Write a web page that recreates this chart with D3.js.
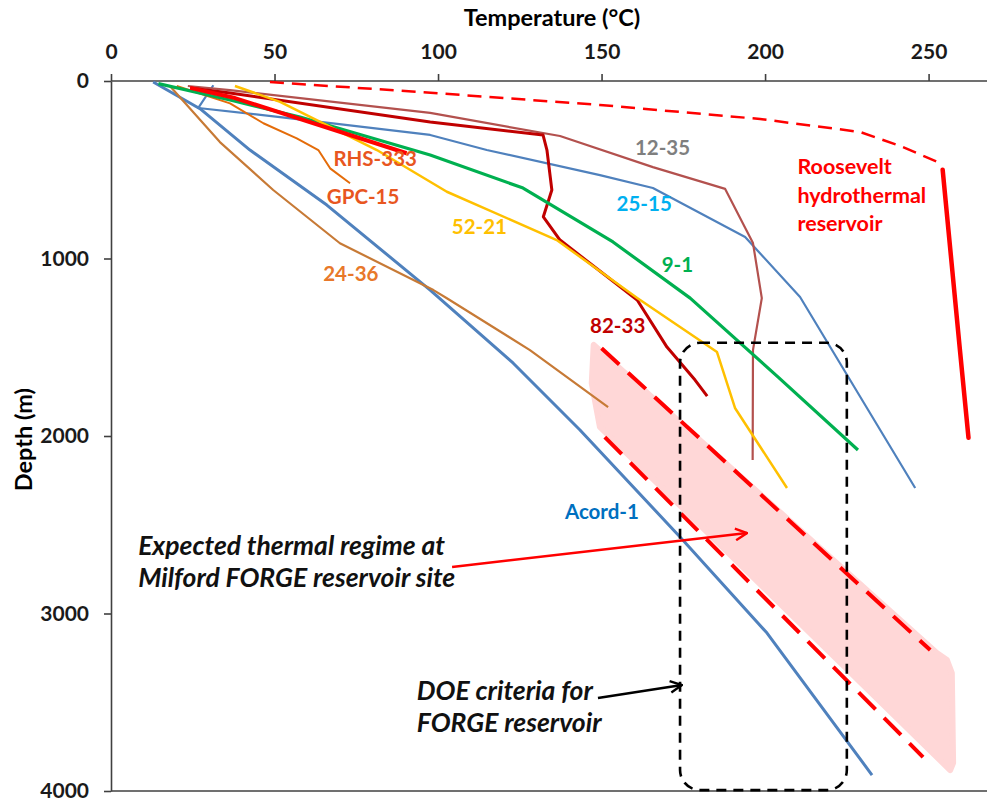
<!DOCTYPE html>
<meta charset="utf-8">
<head>
    <title>Temperature vs depth, Milford FORGE</title>
    <script src="https://d3js.org/d3.v7.min.js"></script>
    <style>
        body { margin: 0; background: #fff; }
        svg text { font-family: "Lato", "Open Sans", sans-serif; font-weight: 700; }
        .axis path, .axis line { stroke: #404040; stroke-width: 1.6; }
        .axis text { font-size: 21px; fill: #1a1a1a; }
        .note { font-style: italic; font-size: 26.5px; fill: #111; }
        .lbl { font-size: 20.5px; }
    </style>
</head>
<body>
<div id="chart"></div>
<script>
    // [temperature °C, depth m]
    var acord1 = [[12.9, 6], [27.2, 156], [42.5, 389], [66, 699], [97.6, 1178], [123, 1590], [143.4, 1966], [174, 2569], [200.6, 3110], [232.7, 3910]];
    var w2515 = [[31.3, 24], [26.7, 152], [51.7, 203], [97.6, 304], [114.9, 389], [149.5, 530], [165.7, 603], [193.9, 879], [210.7, 1217], [245.9, 2293]];
    var w1235 = [[23.5, 28], [36.4, 51], [97.6, 180], [137.3, 310], [165.7, 485], [187.8, 608], [196.3, 913], [199, 1223], [196.3, 1516], [196.2, 2135]];
    var w8233 = [[24.2, 39], [36.4, 68], [97.6, 231], [132.1, 304], [133.3, 389], [134.8, 614], [132.2, 765], [137.3, 896], [160.9, 1234], [170, 1499], [178.6, 1685], [182.3, 1775]];
    var w91 = [[14.5, 15], [36.4, 107], [57.8, 203], [97.6, 417], [126, 603], [153.5, 907], [177.1, 1223], [204, 1668], [228.4, 2079]];
    var w5221 = [[37.9, 28], [51.7, 118], [81.3, 389], [102.7, 624], [136.3, 896], [160.9, 1223], [185.3, 1527], [190.8, 1842], [206.7, 2293]];
    var rhs333 = [[24.2, 39], [37.9, 96], [90.4, 407]];
    var gpc15 = [[20.1, 28], [36.4, 126], [46.6, 238], [56.8, 323], [63.4, 389], [67, 492], [73.1, 576]];
    var w2436 = [[18, 28], [33.3, 344], [49.6, 614], [70, 914], [98.6, 1178], [102.7, 1224], [128.1, 1516], [152, 1837]];
    var rooseveltShallow = [[48.6, 6], [94.5, 62], [149.5, 135], [198.5, 214], [229, 287], [241.3, 366], [253.5, 462]];
    var rooseveltDeep = [[254.3, 500], [259.5, 1500], [262.2, 2010]];

    // expected Milford thermal regime: shaded band and its two bounding lines
    var bandArea = [[147.6, 1487], [147, 1703], [149.5, 1949], [256.6, 3882], [257.5, 3842], [257.1, 3335], [255.6, 3262], [252.5, 3223]];
    var bandUpper = [[150, 1506], [250.5, 3206]];
    var bandLower = [[151, 2006], [248.3, 3809]];

    // DOE criteria box: temperature and depth limits
    var doeTemp = [174, 225];
    var doeDepth = [1475, 3995];

    var tempTicks = [0, 50, 100, 150, 200, 250];
    var depthTicks = [0, 1000, 2000, 3000, 4000];

    var width = 987, height = 803;

    var x = d3.scaleLinear().domain([0, 270]).range([111, 994]);
    var y = d3.scaleLinear().domain([0, 4000]).range([81, 791]);

    var svg = d3.select("#chart").append("svg")
        .attr("width", width)
        .attr("height", height);

    var defs = svg.append("defs");
    function arrowHead(id, color) {
        defs.append("marker")
            .attr("id", id)
            .attr("viewBox", "0 0 12 12")
            .attr("refX", 11).attr("refY", 6)
            .attr("markerWidth", 14).attr("markerHeight", 14)
            .attr("markerUnits", "userSpaceOnUse")
            .attr("orient", "auto")
            .append("path")
            .attr("d", "M1,1 L11,6 L1,11")
            .attr("fill", "none")
            .attr("stroke", color)
            .attr("stroke-width", 2);
    }
    arrowHead("arrRed", "#ff0000");
    arrowHead("arrBlack", "#000");

    var line = d3.line().x(function (d) { return x(d[0]); }).y(function (d) { return y(d[1]); });

    // pink band
    svg.append("path")
        .attr("d", line(bandArea) + "Z")
        .attr("fill", "#ffd7d7")
        .attr("stroke", "#ffd7d7")
        .attr("stroke-width", 6)
        .attr("stroke-linejoin", "round");

    // axes
    svg.append("g")
        .attr("class", "axis")
        .attr("transform", "translate(0," + y(0) + ")")
        .call(d3.axisTop(x).tickValues(tempTicks).tickSize(7).tickPadding(15).tickSizeOuter(0))
        .call(function (g) { g.select(".domain").attr("d", "M" + x(0) + ",0H" + width); });

    svg.append("g")
        .attr("class", "axis")
        .attr("transform", "translate(" + x(0) + ",0)")
        .call(d3.axisLeft(y).tickValues(depthTicks).tickFormat(d3.format("d")).tickSize(7).tickPadding(15).tickSizeOuter(0));

    svg.append("line")
        .attr("x1", x(0)).attr("x2", width)
        .attr("y1", y(4000)).attr("y2", y(4000))
        .attr("stroke", "#404040").attr("stroke-width", 1.6);

    svg.append("text")
        .attr("x", 552).attr("y", 26)
        .attr("text-anchor", "middle")
        .style("font-size", "23.5px")
        .text("Temperature (°C)");

    svg.append("text")
        .attr("transform", "translate(32," + y(2020) + ") rotate(-90)")
        .attr("text-anchor", "middle")
        .style("font-size", "23.5px")
        .text("Depth (m)");

    // band boundary lines
    [bandUpper, bandLower].forEach(function (b) {
        svg.append("path")
            .attr("d", line(b))
            .attr("fill", "none")
            .attr("stroke", "#ff0000")
            .attr("stroke-width", 4)
            .attr("stroke-dasharray", "24,12");
    });

    // wells
    var wells = [
        {data: w2515, color: "#4f81bd", w: 2.2},
        {data: acord1, color: "#4f81bd", w: 3},
        {data: w2436, color: "#c77a36", w: 2.2},
        {data: gpc15, color: "#e46c0a", w: 2},
        {data: w1235, color: "#b3514e", w: 2.2},
        {data: w8233, color: "#c00000", w: 3},
        {data: w91, color: "#00b050", w: 3.2},
        {data: w5221, color: "#ffc000", w: 2.5},
        {data: rhs333, color: "#ff0000", w: 4}
    ];

    svg.selectAll(".well")
        .data(wells)
        .enter()
        .append("path")
        .attr("class", "well")
        .attr("d", function (d) { return line(d.data); })
        .attr("fill", "none")
        .attr("stroke", function (d) { return d.color; })
        .attr("stroke-width", function (d) { return d.w; })
        .attr("stroke-linejoin", "round");

    // Roosevelt hydrothermal reservoir
    svg.append("path")
        .attr("d", line(rooseveltShallow))
        .attr("fill", "none")
        .attr("stroke", "#ff0000")
        .attr("stroke-width", 2.5)
        .attr("stroke-dasharray", "14,8");
    svg.append("path")
        .attr("d", line(rooseveltDeep))
        .attr("fill", "none")
        .attr("stroke", "#ff0000")
        .attr("stroke-width", 4.5)
        .attr("stroke-linecap", "round");

    // DOE box
    svg.append("rect")
        .attr("x", x(doeTemp[0]))
        .attr("y", y(doeDepth[0]))
        .attr("width", x(doeTemp[1]) - x(doeTemp[0]))
        .attr("height", y(doeDepth[1]) - y(doeDepth[0]))
        .attr("rx", 20).attr("ry", 20)
        .attr("fill", "none")
        .attr("stroke", "#000")
        .attr("stroke-width", 2.6)
        .attr("stroke-dasharray", "10,7");

    // curve labels, anchored at [temperature, depth]
    var labels = [
        {t: "12-35", at: [160.2, 417], c: "#7f7f7f"},
        {t: "25-15", at: [154.6, 732], c: "#00b0f0"},
        {t: "52-21", at: [104.2, 862], c: "#ffc000"},
        {t: "9-1", at: [168.4, 1076], c: "#00b050"},
        {t: "82-33", at: [146.5, 1420], c: "#c00000"},
        {t: "RHS-333", at: [68, 479], c: "#e8561f"},
        {t: "GPC-15", at: [66, 693], c: "#e8561f"},
        {t: "24-36", at: [64.9, 1127], c: "#e8782a"},
        {t: "Acord-1", at: [138.8, 2468], c: "#0070c0"}
    ];
    svg.selectAll(".lbl")
        .data(labels)
        .enter()
        .append("text")
        .attr("class", "lbl")
        .attr("x", function (d) { return x(d.at[0]); })
        .attr("y", function (d) { return y(d.at[1]); })
        .attr("fill", function (d) { return d.c; })
        .text(function (d) { return d.t; });

    var roos = svg.append("text")
        .attr("fill", "#ff0000")
        .style("font-size", "21.5px");
    ["Roosevelt", "hydrothermal", "reservoir"].forEach(function (s, i) {
        roos.append("tspan")
            .attr("x", x(209.9))
            .attr("y", y(524) + i * 28.5)
            .text(s);
    });

    // annotations
    var note1 = svg.append("text").attr("class", "note");
    ["Expected thermal regime at", "Milford FORGE reservoir site"].forEach(function (s, i) {
        note1.append("tspan").attr("x", x(8.3)).attr("y", y(2670) + i * 32).text(s);
    });
    svg.append("line")
        .attr("x1", x(104.3)).attr("y1", y(2738))
        .attr("x2", x(194.5)).attr("y2", y(2547))
        .attr("stroke", "#ff0000").attr("stroke-width", 2.5)
        .attr("marker-end", "url(#arrRed)");

    var note2 = svg.append("text").attr("class", "note");
    ["DOE criteria for", "FORGE reservoir"].forEach(function (s, i) {
        note2.append("tspan").attr("x", x(93.5)).attr("y", y(3487) + i * 32).text(s);
    });
    svg.append("line")
        .attr("x1", x(148.9)).attr("y1", y(3476))
        .attr("x2", x(174.6)).attr("y2", y(3403))
        .attr("stroke", "#000").attr("stroke-width", 2.5)
        .attr("marker-end", "url(#arrBlack)");
</script>
</body>
